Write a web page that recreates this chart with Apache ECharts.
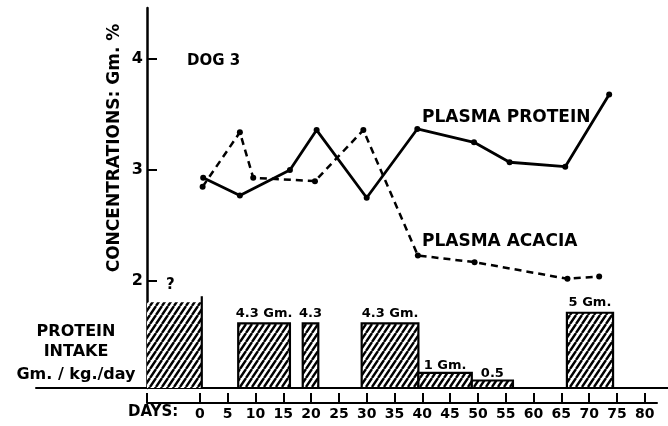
<!DOCTYPE html>
<html>
<head>
<meta charset="utf-8">
<script src="https://cdn.jsdelivr.net/npm/echarts@6/dist/echarts.min.js"></script>
<style>
html,body{margin:0;padding:0;background:#fff;}
#chart{width:668px;height:426px;}
</style>
</head>
<body>
<div id="chart"></div>
<script>
// ---- data ----
var proteinDays   = [0.6, 7.2, 16.2, 21, 30, 39.1, 49.3, 55.7, 65.7, 73.6];
var proteinValues = [2.93, 2.77, 3.00, 3.36, 2.75, 3.37, 3.25, 3.07, 3.03, 3.68];
var acaciaDays    = [0.5, 7.2, 9.6, 20.7, 29.4, 39.2, 49.4, 66.1, 71.8];
var acaciaValues  = [2.85, 3.34, 2.93, 2.90, 3.36, 2.23, 2.17, 2.02, 2.04];

var intakeStart  = [-9.5, 6.9, 18.5, 29.1, 39.3, 48.9, 66.0];
var intakeEnd    = [0.35, 16.2, 21.3, 39.3, 48.9, 56.3, 74.3];
var intakeValue  = [5.7, 4.3, 4.3, 4.3, 1, 0.5, 5];
var intakeLabels = ['?', '4.3 Gm.', '4.3', '4.3 Gm.', '1 Gm.', '0.5', '5 Gm.'];

var dayTickValues  = [-9.5, 0, 5, 10, 15, 20, 25, 30, 35, 40, 45, 50, 55, 60, 65, 70, 75, 80];
var dayLabelValues = [0, 5, 10, 15, 20, 25, 30, 35, 40, 45, 50, 55, 60, 65, 70, 75, 80];
var concTickValues = [2, 3, 4];

// ---- hatch pattern ----
var hatch = document.createElement('canvas');
var HW = 6, HH = 9;
hatch.width = HW; hatch.height = HH;
(function(){
  var g = hatch.getContext('2d');
  g.fillStyle = '#fff'; g.fillRect(0,0,HW,HH);
  g.strokeStyle = '#000'; g.lineWidth = 2.4;
  g.beginPath();
  g.moveTo(0,HH); g.lineTo(HW,0);
  g.moveTo(-HW,HH); g.lineTo(0,0);
  g.moveTo(HW,HH); g.lineTo(2*HW,0);
  g.stroke();
})();

var FONT = '"DejaVu Sans"';
function pairs(xs, ys){ return xs.map(function(x,i){ return [x, ys[i]]; }); }
var barData = intakeStart.map(function(s,i){ return [s, intakeEnd[i], intakeValue[i]]; });

var chart = echarts.init(document.getElementById('chart'), null, {renderer:'canvas'});
chart.setOption({
  backgroundColor: '#fff',
  animation: false,
  grid: [
    {left: 147, top: 8, right: 11, height: 380},
    {left: 36, right: 0, top: 387, height: 1}
  ],
  xAxis: [
    {
      type: 'value', gridIndex: 0, min: -9.5, max: 82.2, offset: 15,
      axisLine: {show: true, onZero: false, lineStyle: {color: '#000', width: 2}},
      axisTick: {show: true, inside: true, length: 10, customValues: dayTickValues, lineStyle: {color: '#000', width: 2}},
      axisLabel: {show: true, customValues: dayLabelValues, margin: 4, color: '#000',
                  fontFamily: FONT, fontWeight: 'bold', fontSize: 14},
      splitLine: {show: false}
    },
    {
      type: 'value', gridIndex: 1, min: 0, max: 1,
      axisLine: {show: true, onZero: false, lineStyle: {color: '#000', width: 2}},
      axisTick: {show: false}, axisLabel: {show: false}, splitLine: {show: false}
    }
  ],
  yAxis: [
    {
      type: 'value', gridIndex: 0, min: 1.036, max: 4.46,
      axisLine: {show: true, onZero: false, lineStyle: {color: '#000', width: 2.5}},
      axisTick: {show: true, inside: true, length: 10, customValues: concTickValues, lineStyle: {color: '#000', width: 2}},
      axisLabel: {show: true, customValues: concTickValues, margin: 4, color: '#000',
                  fontFamily: FONT, fontWeight: 'bold', fontSize: 16},
      splitLine: {show: false}
    },
    {
      type: 'value', gridIndex: 0, min: 0, max: 25.25, show: false
    },
    {
      type: 'value', gridIndex: 1, min: 0, max: 1, show: false
    }
  ],
  series: [
    {
      type: 'custom', xAxisIndex: 0, yAxisIndex: 1, z: 2,
      data: barData,
      encode: {x: [0, 1], y: 2},
      renderItem: function(params, api){
        var s = api.value(0), e = api.value(1), v = api.value(2);
        var p0 = api.coord([s, v]);
        var p1 = api.coord([e, 0]);
        var x = p0[0], y = p0[1], w = p1[0] - p0[0], h = p1[1] - p0[1];
        var idx = params.dataIndex;
        var children = [{
          type: 'rect',
          shape: {x: x, y: y, width: w, height: h},
          style: {fill: {image: hatch, repeat: 'repeat'}, stroke: idx === 0 ? null : '#000', lineWidth: 2.2}
        }];
        if (idx === 0) {
          children.push({type: 'polyline', shape: {points: [[x + w, y - 6], [x + w, y + h]]},
                         style: {stroke: '#000', lineWidth: 2.2, fill: null}});
        }
        children.push({
          type: 'text',
          x: x + w / 2 + (idx === 0 ? -4 : 0),
          y: y - (idx === 0 ? 17 : (v < 2 ? 7 : 10)),
          style: {text: intakeLabels[idx], align: 'center', verticalAlign: 'middle',
                  font: 'bold ' + (idx === 0 ? 15 : 13) + 'px ' + FONT, fill: '#000'}
        });
        return {type: 'group', children: children};
      }
    },
    {
      name: 'PLASMA PROTEIN', type: 'line', xAxisIndex: 0, yAxisIndex: 0, z: 5,
      data: pairs(proteinDays, proteinValues),
      symbol: 'circle', symbolSize: 6,
      itemStyle: {color: '#000'},
      lineStyle: {color: '#000', width: 2.8, type: 'solid'}
    },
    {
      name: 'PLASMA ACACIA', type: 'line', xAxisIndex: 0, yAxisIndex: 0, z: 5,
      data: pairs(acaciaDays, acaciaValues),
      symbol: 'circle', symbolSize: 6,
      itemStyle: {color: '#000'},
      lineStyle: {color: '#000', width: 2.5, type: [7, 5]}
    }
  ],
  graphic: [
    {type: 'text', x: 187, y: 61, style: {text: 'DOG 3', font: 'bold 15px ' + FONT, fill: '#000', verticalAlign: 'middle'}},
    {type: 'text', x: 422, y: 118, style: {text: 'PLASMA PROTEIN', font: 'bold 17px ' + FONT, fill: '#000', verticalAlign: 'middle'}},
    {type: 'text', x: 422, y: 242, style: {text: 'PLASMA ACACIA', font: 'bold 17px ' + FONT, fill: '#000', verticalAlign: 'middle'}},
    {type: 'text', x: 115, y: 148, rotation: Math.PI / 2,
     style: {text: 'CONCENTRATIONS: Gm. %', font: 'bold 17px ' + FONT, fill: '#000', align: 'center', verticalAlign: 'middle'}},
    {type: 'text', x: 76, y: 332, style: {text: 'PROTEIN', font: 'bold 16px ' + FONT, fill: '#000', align: 'center', verticalAlign: 'middle'}},
    {type: 'text', x: 76, y: 352, style: {text: 'INTAKE', font: 'bold 16px ' + FONT, fill: '#000', align: 'center', verticalAlign: 'middle'}},
    {type: 'text', x: 76, y: 375, style: {text: 'Gm. / kg./day', font: 'bold 16px ' + FONT, fill: '#000', align: 'center', verticalAlign: 'middle'}},
    {type: 'text', x: 128, y: 412, style: {text: 'DAYS:', font: 'bold 15px ' + FONT, fill: '#000', verticalAlign: 'middle'}}
  ]
});
</script>
</body>
</html>
